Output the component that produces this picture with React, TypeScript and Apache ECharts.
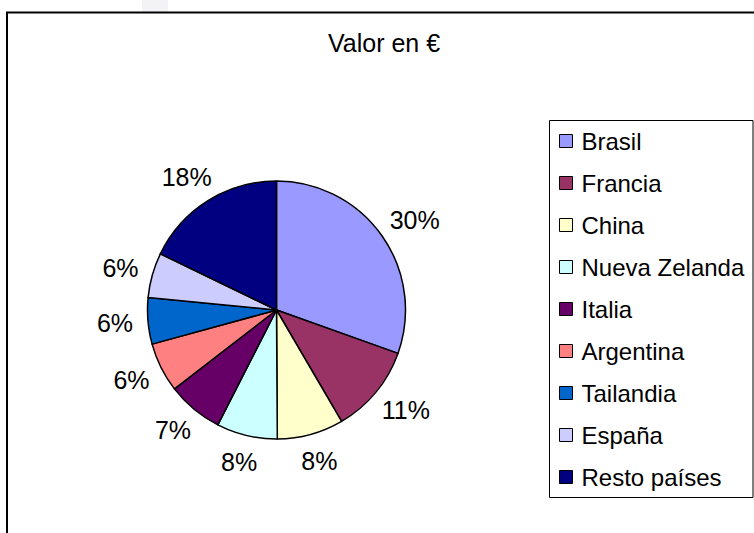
import React, { useEffect, useRef } from "react";
import * as echarts from "echarts";

const categories = ["Brasil", "Francia", "China", "Nueva Zelanda", "Italia", "Argentina", "Tailandia", "España", "Resto países"];
const values = [30.4, 11.1, 8.3, 7.6, 7.0, 6.2, 5.8, 5.6, 17.8];
const colors = ["#9999FF", "#993366", "#FFFFCC", "#CCFFFF", "#660066", "#FF8080", "#0066CC", "#CCCCFF", "#000080"];
const titleText = "Valor en €";

const FONT = "'Liberation Sans', Arial, sans-serif";

export default function App() {
  const ref = useRef<HTMLDivElement>(null);
  useEffect(() => {
    if (!ref.current) return;
    const chart = echarts.init(ref.current, undefined, { renderer: "svg" });
    const cx = 276.5;
    const cy = 310;
    const R = 129;
    const total = values.reduce((a, b) => a + b, 0);
    const mids: number[] = [];
    let acc = 0;
    values.forEach((v) => {
      mids.push(((acc + v / 2) / total) * Math.PI * 2);
      acc += v;
    });
    chart.setOption({
      animation: false,
      backgroundColor: "#ffffff",
      title: {
        text: titleText,
        left: 328,
        top: 30,
        padding: 0,
        textStyle: { fontFamily: FONT, fontSize: 25, fontWeight: "normal", color: "#000" },
      },
      graphic: [
        { type: "rect", shape: { x: 142, y: 0, width: 26, height: 12 }, style: { fill: "#f3f2f5" }, silent: true },
        { type: "rect", shape: { x: 7, y: 12.5, width: 800, height: 600 }, style: { fill: "none", stroke: "#000", lineWidth: 2 }, silent: true },
        { type: "rect", shape: { x: 549.5, y: 120.5, width: 203.5, height: 377 }, style: { fill: "none", stroke: "#000", lineWidth: 1 }, silent: true },
      ],
      legend: {
        orient: "vertical",
        left: 559,
        top: 129,
        padding: 0,
        itemWidth: 13,
        itemHeight: 13,
        itemGap: 18,
        icon: "rect",
        itemStyle: { borderColor: "#000", borderWidth: 1 },
        textStyle: { fontFamily: FONT, fontSize: 24, lineHeight: 24, color: "#000", padding: [0, 0, 0, 4] },
        data: categories,
      },
      series: [
        {
          type: "pie",
          center: [cx, cy],
          radius: R,
          startAngle: 90,
          clockwise: true,
          avoidLabelOverlap: false,
          itemStyle: { borderColor: "#000", borderWidth: 1.5 },
          label: {
            show: true,
            position: "outside",
            fontFamily: FONT,
            fontSize: 25,
            color: "#000",
            formatter: (p: any) => Math.round(p.percent) + "%",
          },
          labelLine: { show: false },
          labelLayout: (p: any) => {
            const a = mids[p.dataIndex];
            const dx = Math.sin(a);
            const dy = -Math.cos(a);
            const w = p.labelRect.width;
            const h = p.labelRect.height;
            const g = R + 15;
            return {
              x: cx + dx * g + (dx * w) / 2,
              y: cy + dy * g + (dy * h) / 2,
              align: "center",
              verticalAlign: "middle",
            };
          },
          data: categories.map((c, i) => ({ name: c, value: values[i], itemStyle: { color: colors[i] } })),
        },
      ],
    });
    return () => chart.dispose();
  }, []);
  return <div ref={ref} style={{ position: "fixed", left: 0, top: 0, width: 754, height: 533 }} />;
}
